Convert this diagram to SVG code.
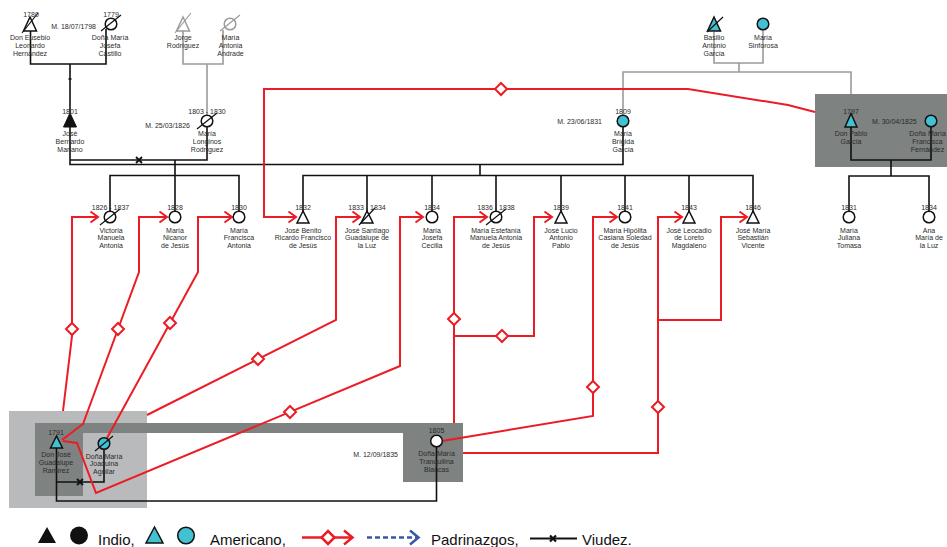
<svg xmlns="http://www.w3.org/2000/svg" width="947" height="547" viewBox="0 0 947 547">
<style>
text{font-family:"Liberation Sans",Arial,sans-serif;font-size:7px;fill:#2b2b2b;text-anchor:middle}
.m{text-anchor:end}
.lg{font-size:15px;fill:#111;text-anchor:start}
.k{fill:none;stroke:#111;stroke-width:1.6}
.gy{fill:none;stroke:#9b9b9b;stroke-width:1.6}
.r{fill:none;stroke:#ec1c24;stroke-width:2}
.ra{marker-end:url(#chev)}
.s{fill:#fff;stroke:#111;stroke-width:1.5}
.sg{fill:#fff;stroke:#9b9b9b;stroke-width:1.5}
.tl{fill:#42c1d3}
.bk{fill:#111;stroke:#111;stroke-width:1}
.sl{stroke:#111;stroke-width:1.2}
.slg{stroke:#9b9b9b;stroke-width:1.2}
.dia{fill:#fff;stroke:#ec1c24;stroke-width:2}
.xm{fill:none;stroke:#111;stroke-width:1.8}
</style>
<defs>
<marker id="chev" markerUnits="userSpaceOnUse" markerWidth="12" markerHeight="14" refX="9" refY="7" orient="auto" viewBox="0 0 12 14"><path d="M1.5,1.5 L9,7 L1.5,12.5" fill="none" stroke="#ec1c24" stroke-width="2"/></marker>
<path id="d" d="M0,-6 L6,0 L0,6 L-6,0 Z"/>
<path id="x" d="M-3,-3 L3,3 M-3,3 L3,-3"/>
</defs>
<rect width="947" height="547" fill="#fff"/>

<g id="boxes">
<rect x="815" y="94" width="140" height="73" fill="#7e8281"/>
<rect x="9" y="411" width="138" height="97" fill="#b9babc"/>
<path d="M35,423 H463 V482 H403 V433 H83 V496 H35 Z" fill="#7e8281"/>
</g>

<g id="connectors">
<path class="k" d="M30.5,31 V64 H106 V29"/>
<path class="k" d="M70,64 V113"/>
<path class="k" d="M68.5,79 H71.5" stroke-width="1"/>
<path class="gy" d="M183,31 V64 H223 V30"/>
<path class="gy" d="M207,64 V115"/>
<path class="k" d="M70,127 V164.5 H623 V127"/>
<path class="k" d="M70,160 H207 V127"/>
<path class="k" d="M175,160 V211 M110,211 V175.5 H239 V211"/>
<path class="k" d="M480,164.5 V175.5 M303,211 V175.5 H753 V211 M367,175.5 V211 M432,175.5 V211 M496,175.5 V211 M561,175.5 V211 M625,175.5 V211 M689,175.5 V211"/>
<path class="gy" d="M714,32 V63 H763 V30 M739,63 V72 M623,115 V72 H851 V94"/>
<path class="k" d="M851,127 V160 H931 V127 M891,160 V176 M849,211 V176 H929 V211"/>
<path class="k" d="M56.5,448 V482 H104 V449.5 M56.5,482 V501 H436.5 V447"/>
<use href="#x" class="xm" x="139" y="160"/>
<use href="#x" class="xm" x="80" y="482"/>

<path class="r ra" d="M63,411 L72,336 V217 H98"/>
<path class="r ra" d="M62,440 L83,424 L139,272 V217 H167"/>
<path class="r ra" d="M107,438 L198,272 V217 H232"/>
<path class="r ra" d="M815,112 L788,105 L688,89 H264 V217 H296"/>
<path class="r ra" d="M147,415 L336,320 V217 H360"/>
<path class="r ra" d="M63,441 L77,443 L96,493 L400,366 V217 H423"/>
<path class="r ra" d="M454,423 V217 H487"/>
<path class="r ra" d="M454,336 H534 V217 H552"/>
<path class="r ra" d="M442,441 L593,416 V217 H617"/>
<path class="r ra" d="M463,453 H658 V217 H682"/>
<path class="r ra" d="M658,320 H721 V217 H747"/>
<use href="#d" class="dia" x="72" y="329"/>
<use href="#d" class="dia" x="118" y="329"/>
<use href="#d" class="dia" x="170" y="323"/>
<use href="#d" class="dia" x="501" y="89"/>
<use href="#d" class="dia" x="258" y="359"/>
<use href="#d" class="dia" x="290" y="412"/>
<use href="#d" class="dia" x="454" y="319"/>
<use href="#d" class="dia" x="502" y="336"/>
<use href="#d" class="dia" x="593" y="387"/>
<use href="#d" class="dia" x="658" y="407"/>
</g>

<g id="n-eusebio"><polygon class="s" points="30,17 23.5,31 36.5,31"/><line class="sl" x1="22" y1="33" x2="38" y2="13"/><text x="31" y="17">1780</text><text x="30" y="40">Don Eusebio<tspan x="30" dy="7.8">Leonardo</tspan><tspan x="30" dy="7.8">Hernández</tspan></text></g>
<g id="n-josefa-castillo"><circle class="s" cx="111" cy="24" r="5.8"/><line class="sl" x1="101" y1="31" x2="121" y2="15"/><text x="111" y="17">1779</text><text x="110" y="40">Doña María<tspan x="110" dy="7.8">Josefa</tspan><tspan x="110" dy="7.8">Castillo</tspan></text></g>
<text class="m" x="96" y="28.5">M. 18/07/1798</text>
<g id="n-jorge"><polygon class="sg" points="183,17 176.5,31 189.5,31"/><line class="slg" x1="175" y1="33" x2="191" y2="13"/><text x="183" y="40">Jorge<tspan x="183" dy="7.8">Rodríguez</tspan></text></g>
<g id="n-antonia-andrade"><circle class="sg" cx="230" cy="24" r="5.8"/><line class="slg" x1="220" y1="31" x2="240" y2="15"/><text x="230.5" y="40">María<tspan x="230.5" dy="7.8">Antonia</tspan><tspan x="230.5" dy="7.8">Andrade</tspan></text></g>
<g id="n-basilio"><polygon class="s tl" points="714,17 707.5,31 720.5,31"/><line class="sl" x1="707" y1="32" x2="723" y2="17"/><text x="714" y="40">Basilio<tspan x="714" dy="7.8">Antonio</tspan><tspan x="714" dy="7.8">García</tspan></text></g>
<g id="n-sinforosa"><circle class="s tl" cx="763" cy="24" r="5.8"/><text x="763" y="40">María<tspan x="763" dy="7.8">Sinforosa</tspan></text></g>

<g id="n-jose-bernardo"><polygon class="bk" points="70,113 63.5,127 76.5,127"/><text x="70" y="113.5">1801</text><text x="70" y="136">José<tspan x="70" dy="7.8">Bernardo</tspan><tspan x="70" dy="7.8">Mariano</tspan></text></g>
<g id="n-longinos"><circle class="s" cx="207" cy="121" r="5.8"/><line class="sl" x1="197" y1="129" x2="217" y2="113"/><text x="207" y="113.5">1803 - 1830</text><text x="207" y="136">María<tspan x="207" dy="7.8">Longinos</tspan><tspan x="207" dy="7.8">Rodríguez</tspan></text></g>
<text class="m" x="190" y="127.5">M. 25/03/1826</text>
<g id="n-brigida"><circle class="s tl" cx="623" cy="121" r="5.8"/><text x="623" y="113.5">1809</text><text x="623" y="136">María<tspan x="623" dy="7.8">Brígida</tspan><tspan x="623" dy="7.8">García</tspan></text></g>
<text class="m" x="602" y="123.5">M. 23/06/1831</text>
<g id="n-pablo"><polygon class="s tl" points="851,113.5 845,127 857,127"/><text x="851" y="113.5">1797</text><text x="851" y="136">Don Pablo<tspan x="851" dy="7.8">García</tspan></text></g>
<text x="872" y="123.5" style="text-anchor:start">M. 30/04/1825</text>
<g id="n-francisca"><circle class="s tl" cx="931" cy="121" r="5.8"/><text x="927.5" y="136">Doña María<tspan x="927.5" dy="7.8">Francisca</tspan><tspan x="927.5" dy="7.8">Fernández</tspan></text></g>

<g id="n-victoria"><circle class="s" cx="110" cy="217" r="5.8"/><line class="sl" x1="100" y1="225" x2="120" y2="209"/><text x="110.5" y="209.5">1826 - 1837</text><text x="111" y="232.5">Victoria<tspan x="111" dy="7.8">Manuela</tspan><tspan x="111" dy="7.8">Antonia</tspan></text></g>
<g id="n-nicanor"><circle class="s" cx="175" cy="217" r="5.8"/><text x="175" y="209.5">1828</text><text x="175" y="232.5">María<tspan x="175" dy="7.8">Nicanor</tspan><tspan x="175" dy="7.8">de Jesús</tspan></text></g>
<g id="n-francisca-antonia"><circle class="s" cx="239" cy="217" r="5.8"/><text x="239" y="209.5">1830</text><text x="239" y="232.5">María<tspan x="239" dy="7.8">Francisca</tspan><tspan x="239" dy="7.8">Antonia</tspan></text></g>
<g id="n-jose-benito"><polygon class="s" points="303,211 297,223 309,223"/><text x="303" y="209.5">1832</text><text x="303" y="232.5">José Benito<tspan x="303" dy="7.8">Ricardo Francisco</tspan><tspan x="303" dy="7.8">de Jesús</tspan></text></g>
<g id="n-jose-santiago"><polygon class="s" points="367,211 361,223 373,223"/><line class="sl" x1="359" y1="225" x2="375" y2="208"/><text x="367" y="209.5">1833 - 1834</text><text x="367" y="232.5">José Santiago<tspan x="367" dy="7.8">Guadalupe de</tspan><tspan x="367" dy="7.8">la Luz</tspan></text></g>
<g id="n-josefa-cecilia"><circle class="s" cx="432" cy="217" r="5.8"/><text x="432" y="209.5">1834</text><text x="432" y="232.5">María<tspan x="432" dy="7.8">Josefa</tspan><tspan x="432" dy="7.8">Cecilia</tspan></text></g>
<g id="n-estefania"><circle class="s" cx="496" cy="217" r="5.8"/><line class="sl" x1="486" y1="225" x2="506" y2="209"/><text x="496" y="209.5">1836 - 1838</text><text x="496" y="232.5">María Estefanía<tspan x="496" dy="7.8">Manuela Antonia</tspan><tspan x="496" dy="7.8">de Jesús</tspan></text></g>
<g id="n-jose-lucio"><polygon class="s" points="561,211 555,223 567,223"/><text x="561" y="209.5">1839</text><text x="561" y="232.5">José Lucio<tspan x="561" dy="7.8">Antonio</tspan><tspan x="561" dy="7.8">Pablo</tspan></text></g>
<g id="n-hipolita"><circle class="s" cx="625" cy="217" r="5.8"/><text x="625" y="209.5">1841</text><text x="625" y="232.5">María Hipólita<tspan x="625" dy="7.8">Casiana Soledad</tspan><tspan x="625" dy="7.8">de Jesús</tspan></text></g>
<g id="n-leocadio"><polygon class="s" points="689,211 683,223 695,223"/><text x="689" y="209.5">1843</text><text x="689" y="232.5">José Leocadio<tspan x="689" dy="7.8">de Loreto</tspan><tspan x="689" dy="7.8">Magdaleno</tspan></text></g>
<g id="n-jose-maria"><polygon class="s" points="753,211 747,223 759,223"/><text x="753" y="209.5">1846</text><text x="753" y="232.5">José María<tspan x="753" dy="7.8">Sebastián</tspan><tspan x="753" dy="7.8">Vicente</tspan></text></g>
<g id="n-juliana"><circle class="s" cx="849" cy="217" r="5.8"/><text x="849" y="209.5">1831</text><text x="849" y="232.5">María<tspan x="849" dy="7.8">Juliana</tspan><tspan x="849" dy="7.8">Tomasa</tspan></text></g>
<g id="n-ana"><circle class="s" cx="929" cy="217" r="5.8"/><text x="929" y="209.5">1834</text><text x="929" y="232.5">Ana<tspan x="929" dy="7.8">María de</tspan><tspan x="929" dy="7.8">la Luz</tspan></text></g>

<g id="n-guadalupe"><polygon class="s tl" points="56.5,436 50.5,448 62.5,448"/><text x="56" y="434.5">1791</text><text x="56" y="457">Don José<tspan x="56" dy="7.8">Guadalupe</tspan><tspan x="56" dy="7.8">Ramírez</tspan></text></g>
<g id="n-joaquina"><circle class="s tl" cx="104" cy="443.5" r="5.8"/><line class="sl" x1="95" y1="451" x2="113" y2="436"/><text x="104" y="458.5">Doña María<tspan x="104" dy="7.8">Joaquina</tspan><tspan x="104" dy="7.8">Aguilar</tspan></text></g>
<g id="n-tranquilina"><circle class="s" cx="436.5" cy="441" r="5.8"/><text x="436.5" y="433">1805</text><text x="436.5" y="456">Doña María<tspan x="436.5" dy="7.8">Tranquilina</tspan><tspan x="436.5" dy="7.8">Blancas</tspan></text></g>
<text class="m" x="398" y="457">M. 12/09/1835</text>

<g id="legend">
<polygon points="47,527 38,543 56,543" fill="#111"/>
<circle cx="79" cy="535.5" r="9" fill="#111"/>
<text class="lg" x="98" y="545">Indio,</text>
<polygon points="154.5,527 146,543 163,543" fill="#42c1d3" stroke="#111" stroke-width="1.5"/>
<circle cx="186" cy="535.5" r="8.3" fill="#42c1d3" stroke="#111" stroke-width="1.5"/>
<text class="lg" x="210" y="545">Americano,</text>
<path d="M302,537.5 H352" stroke="#ec1c24" stroke-width="2.5" fill="none"/>
<path d="M328,531 L334.5,537.5 L328,544 L321.5,537.5 Z" fill="#fff" stroke="#ec1c24" stroke-width="2.5"/>
<path d="M344,530.5 L352.5,537.5 L344,544.5" fill="none" stroke="#ec1c24" stroke-width="2.5"/>
<path d="M367,537.5 H417" stroke="#3a58a6" stroke-width="2.5" stroke-dasharray="5,3" fill="none"/>
<path d="M410,530.5 L418.5,537.5 L410,544.5" fill="none" stroke="#3a58a6" stroke-width="2.5"/>
<text class="lg" x="431" y="545">Padrinazgos,</text>
<path d="M530,538.5 H577" stroke="#111" stroke-width="2.2" fill="none"/>
<path d="M550,535.5 L556,541.5 M550,541.5 L556,535.5" stroke="#111" stroke-width="2.2"/>
<text class="lg" x="582" y="545">Viudez.</text>
</g>
</svg>
